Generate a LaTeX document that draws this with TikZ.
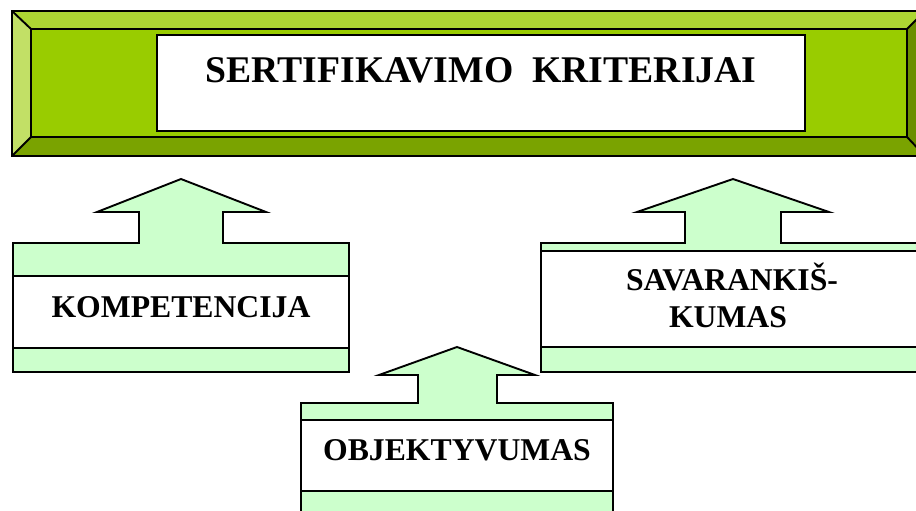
\documentclass[tikz,border=0pt]{standalone}
\usepackage{fontspec}
\setmainfont{Liberation Serif}
\definecolor{face}{HTML}{99CC00}
\definecolor{bevtop}{HTML}{ADD633}
\definecolor{bevleft}{HTML}{C2E066}
\definecolor{bevbot}{HTML}{7AA300}
\definecolor{bevright}{HTML}{6B8F00}
\definecolor{lgreen}{HTML}{CCFFCC}
\tikzset{
  edge/.style={draw=black, line width=1.9pt, line join=miter},
  block/.style={edge, fill=lgreen},
  band/.style={edge, fill=white},
  lbl/.style={inner sep=0pt, anchor=base, font=\fontsize{31.7}{38}\selectfont\bfseries},
  ttl/.style={inner sep=0pt, anchor=base, font=\fontsize{37.7}{44}\selectfont\bfseries}
}
\begin{document}
\begin{tikzpicture}[x=1pt, y=-1pt]
\clip (0,0) rectangle (916,511);
\fill[white] (0,0) rectangle (916,511);
% top beveled frame
\fill[face] (31,29) rectangle (907,137);
\fill[bevtop] (12,11) -- (925,11) -- (907,29) -- (31,29) -- cycle;
\fill[bevleft] (12,11) -- (31,29) -- (31,137) -- (12,156) -- cycle;
\fill[bevbot] (12,156) -- (31,137) -- (907,137) -- (925,156) -- cycle;
\fill[bevright] (925,11) -- (925,156) -- (907,137) -- (907,29) -- cycle;
\draw[edge] (12,11) rectangle (925,156);
\draw[edge] (31,29) rectangle (907,137);
\draw[edge] (12,11) -- (31,29) (12,156) -- (31,137) (925,11) -- (907,29) (925,156) -- (907,137);
\draw[band] (157,35) rectangle (805,131);
\node[ttl] (title) at (481,82) {SERTIFIKAVIMO\ \ KRITERIJAI};
% left block
\draw[block] (13,243) -- (139,243) -- (139,212) -- (97,212) -- (181,179) -- (266,212) -- (223,212) -- (223,243) -- (349,243) -- (349,372) -- (13,372) -- cycle;
\draw[band] (13,276) rectangle (349,348);
\node[lbl] (komp) at (181,317) {KOMPETENCIJA};
% right block
\draw[block] (541,243) -- (685,243) -- (685,212) -- (637,212) -- (733,179) -- (829,212) -- (781,212) -- (781,243) -- (930,243) -- (930,372) -- (541,372) -- cycle;
\draw[band] (541,251) rectangle (930,347);
\node[lbl] (sav1) at (732,290) {SAVARANKIŠ-};
\node[lbl] (sav2) at (728,327) {KUMAS};
% bottom block
\draw[block] (301,403) -- (418,403) -- (418,375) -- (379,375) -- (457,347) -- (535,375) -- (497,375) -- (497,403) -- (613,403) -- (613,530) -- (301,530) -- cycle;
\draw[band] (301,420) rectangle (613,491);
\node[lbl] (obj) at (457,460) {OBJEKTYVUMAS};
\end{tikzpicture}
\end{document}
